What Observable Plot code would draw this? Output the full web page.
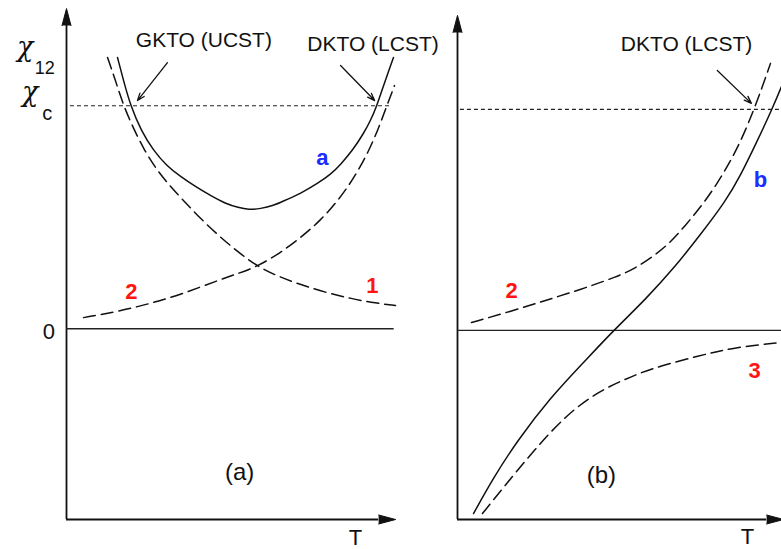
<!DOCTYPE html>
<html><head><meta charset="utf-8">
<script src="https://cdn.jsdelivr.net/npm/d3@7"></script>
<script src="https://cdn.jsdelivr.net/npm/@observablehq/plot@0.6"></script>
<style>
html,body{margin:0;padding:0;background:#fff;}
#wrap{position:relative;width:781px;height:549px;overflow:hidden;background:#fff;}
#wrap svg{position:absolute;top:0;}
</style></head><body><div id="wrap"></div>
<script>
// ---- Panel (a) data (T arbitrary units 0..10, chi with chi_c = 1) ----
const solidA_T   = [1.541,1.722,1.934,2.266,2.628,3.021,3.444,3.897,4.350,4.804,5.196,5.498,5.861,6.254,6.586,7.069,7.583,7.976,8.278,8.640,8.973,9.184,9.366,9.547,9.728,9.879];
const solidA_chi = [1.216,1.113,1.000,0.884,0.799,0.731,0.682,0.637,0.597,0.561,0.543,0.534,0.538,0.552,0.575,0.606,0.651,0.691,0.736,0.799,0.875,0.933,0.996,1.077,1.153,1.216];
const dash1A_T   = [1.239,1.480,1.722,2.024,2.356,2.719,3.142,3.565,4.048,4.592,5.166,5.770,6.405,7.069,7.825,8.580,9.245,9.940];
const dash1A_chi = [1.216,1.113,1.000,0.898,0.799,0.714,0.637,0.570,0.494,0.418,0.346,0.279,0.234,0.198,0.163,0.136,0.117,0.104];
const dash2A_T   = [0.514,1.541,2.538,3.535,4.562,5.166,5.770,6.465,7.069,7.674,8.278,8.731,9.124,9.426,9.668,9.909];
const dash2A_chi = [0.050,0.077,0.113,0.158,0.216,0.247,0.279,0.341,0.408,0.485,0.588,0.687,0.794,0.898,0.996,1.090];
// ---- Panel (b) data ----
const dash2B_T   = [0.432,1.636,2.716,3.796,4.938,5.463,5.988,6.512,7.037,7.593,7.994,8.426,8.796,9.136,9.414,9.660];
const dash2B_chi = [0.036,0.086,0.136,0.185,0.244,0.280,0.330,0.389,0.475,0.575,0.660,0.765,0.873,0.995,1.104,1.208];
const solidB_T   = [0.494,1.111,1.852,2.870,3.889,4.815,5.802,6.728,7.500,8.272,8.735,9.228,9.722,10.154];
const solidB_chi = [-0.828,-0.665,-0.498,-0.303,-0.145,0.000,0.140,0.290,0.434,0.584,0.701,0.850,1.004,1.158];
const dash3B_T   = [0.77,1.42,2.35,3.40,4.41,5.19,5.96,7.50,8.52,10.0];
const dash3B_chi = [-0.828,-0.710,-0.543,-0.375,-0.271,-0.220,-0.172,-0.113,-0.077,-0.054];

const chiC = 1;          // critical chi
const yMin = -0.855, yMax = 1.42;   // chi extent of the axes

// annotations (data units)
const arrowsA = [
  {T1:3.05, c1:1.193, T2:2.145, c2:1.023},
  {T1:8.28, c1:1.180, T2:9.31,  c2:1.023}
];
const arrowsB = [{T1:8.02, c1:1.176, T2:9.07, c2:1.027}];
const titlesA = [{T:4.15, chi:1.265, text:"GKTO (UCST)"},{T:9.26, chi:1.247, text:"DKTO (LCST)"}];
const titlesB = [{T:7.07, chi:1.262, text:"DKTO (LCST)"}];
const curveLabelsA = [{T:7.73, chi:0.732, text:"a", color:"blue"},{T:1.96, chi:0.135, text:"2", color:"red"},{T:9.24, chi:0.162, text:"1", color:"red"}];
const curveLabelsB = [{T:9.35, chi:0.647, text:"b", color:"blue"},{T:1.67, chi:0.149, text:"2", color:"red"},{T:9.17, chi:-0.217, text:"3", color:"red"}];
const panelLabels = [{T:5.23, chi:-0.680, text:"(a)"},{T:4.44, chi:-0.692, text:"(b)"}];
const axisTitleT = [{T:8.73, chi:-0.968, text:"T"},{T:8.95, chi:-0.968, text:"T"}];

const rows = (T, c) => T.map((t, i) => ({T: t, chi: c[i]}));
const FONT = "Liberation Sans, Arial, Helvetica, sans-serif";
const GREEK = "DejaVu Serif, serif";
const BLUE = "#1a2cff", RED = "#ff1414";

function axesMarks(yArrowBase, xArrowBase, zeroEnd, dotStart, dotEnd) {
  return [
    Plot.ruleX([0], {y1: yMin, y2: yArrowBase, stroke: "#111", strokeWidth: 1.8}),
    Plot.ruleY([yMin], {x1: 0, x2: xArrowBase, stroke: "#111", strokeWidth: 1.8}),
    Plot.vector([{T: 0, chi: yArrowBase}], {x: "T", y: "chi", shape: "spike", anchor: "start", length: 17, r: 4.5, rotate: 0, fill: "#111", fillOpacity: 1, stroke: "#111", strokeWidth: 1}),
    Plot.vector([{T: xArrowBase, chi: yMin}], {x: "T", y: "chi", shape: "spike", anchor: "start", length: 17, r: 4.5, rotate: 90, fill: "#111", fillOpacity: 1, stroke: "#111", strokeWidth: 1}),
    Plot.ruleY([0], {x1: 0, x2: zeroEnd, stroke: "#222", strokeWidth: 1.3}),
    Plot.ruleY([chiC], {x1: dotStart, x2: dotEnd, stroke: "#222", strokeWidth: 1.1, strokeDasharray: "4,3"})
  ];
}

const lineOpts = {x: "T", y: "chi", curve: "basis", stroke: "#111", strokeWidth: 1.5};
const dashOpts = {...lineOpts, strokeDasharray: "12,6"};

function textMarks(titles, curveLabels, panel, tLabel) {
  return [
    Plot.text(titles, {x: "T", y: "chi", text: "text", fontSize: 21, lineAnchor: "bottom", fill: "#111", fontFamily: FONT}),
    Plot.text(curveLabels, {x: "T", y: "chi", text: "text", fontSize: 22, fontWeight: "bold", lineAnchor: "bottom", fill: d => d.color === "blue" ? BLUE : RED, fontFamily: FONT}),
    Plot.text([panel], {x: "T", y: "chi", text: "text", fontSize: 24, lineAnchor: "bottom", fill: "#111", fontFamily: FONT}),
    Plot.text([tLabel], {x: "T", y: "chi", text: "text", fontSize: 22, lineAnchor: "bottom", fill: "#111", fontFamily: FONT})
  ];
}

const plotA = Plot.plot({
  width: 450, height: 549,
  marginLeft: 66, marginRight: 53, marginTop: 11.5, marginBottom: 30,
  x: {domain: [0, 10], axis: null},
  y: {domain: [yMin, yMax], axis: null},
  style: {background: "transparent", overflow: "visible"},
  marks: [
    ...axesMarks(1.359, 9.43, 9.9, 0.12, 9.85),
    Plot.line(rows(solidA_T, solidA_chi), lineOpts),
    Plot.line(rows(dash1A_T, dash1A_chi), dashOpts),
    Plot.line(rows(dash2A_T, dash2A_chi), dashOpts),
    Plot.arrow(arrowsA, {x1: "T1", y1: "c1", x2: "T2", y2: "c2", stroke: "#111", strokeWidth: 1.3, headLength: 9, headAngle: 40}),
    ...textMarks(titlesA, curveLabelsA, panelLabels[0], axisTitleT[0]),
    // y-axis labels
    Plot.text([{T: -1.25, chi: 1.222, text: "χ"}], {x: "T", y: "chi", text: "text", fontSize: 27, fontStyle: "italic", lineAnchor: "bottom", fill: "#111", fontFamily: GREEK}),
    Plot.text([{T: -0.66, chi: 1.143, text: "12"}], {x: "T", y: "chi", text: "text", fontSize: 18, lineAnchor: "bottom", fill: "#111", fontFamily: FONT}),
    Plot.text([{T: -1.10, chi: 1.02, text: "χ"}], {x: "T", y: "chi", text: "text", fontSize: 27, fontStyle: "italic", lineAnchor: "bottom", fill: "#111", fontFamily: GREEK}),
    Plot.text([{T: -0.58, chi: 0.935, text: "c"}], {x: "T", y: "chi", text: "text", fontSize: 20, lineAnchor: "bottom", fill: "#111", fontFamily: FONT}),
    Plot.text([{T: -0.53, chi: -0.044, text: "0"}], {x: "T", y: "chi", text: "text", fontSize: 22, lineAnchor: "bottom", fill: "#111", fontFamily: FONT})
  ]
});
plotA.style.left = "0px";

const plotB = Plot.plot({
  width: 381, height: 549,
  marginLeft: 57, marginRight: 0, marginTop: 16, marginBottom: 30,
  x: {domain: [0, 10], axis: null},
  y: {domain: [yMin, yMax], axis: null},
  style: {background: "transparent", overflow: "hidden"},
  marks: [
    ...axesMarks(1.348, 9.54, 10.2, 0.09, 10.2),
    Plot.line(rows(dash2B_T, dash2B_chi), dashOpts),
    Plot.line(rows(solidB_T, solidB_chi), lineOpts),
    Plot.line(rows(dash3B_T, dash3B_chi), dashOpts),
    Plot.arrow(arrowsB, {x1: "T1", y1: "c1", x2: "T2", y2: "c2", stroke: "#111", strokeWidth: 1.3, headLength: 9, headAngle: 40}),
    ...textMarks(titlesB, curveLabelsB, panelLabels[1], axisTitleT[1])
  ]
});
plotB.style.left = "400px";

const wrap = document.getElementById("wrap");
wrap.append(plotA, plotB);
</script></body></html>
